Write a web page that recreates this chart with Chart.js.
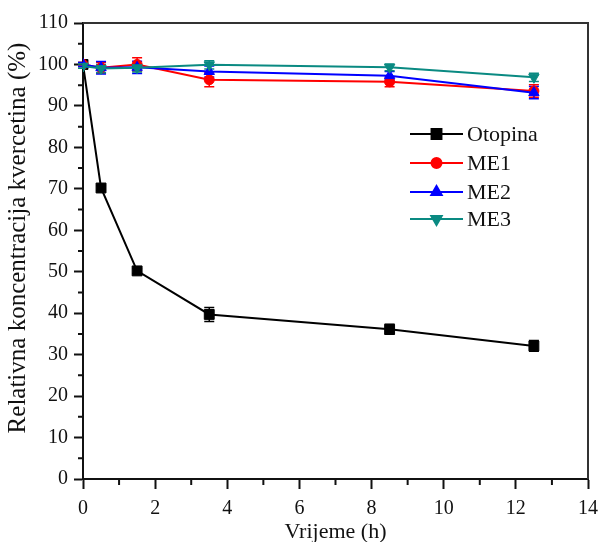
<!DOCTYPE html>
<html><head><meta charset="utf-8">
<script src="https://cdn.jsdelivr.net/npm/chart.js@4"></script>
<style>html,body{margin:0;padding:0;background:#fff}#wrap{width:602px;height:542px}</style>
</head><body><div id="wrap"><canvas id="c" width="602" height="542"></canvas></div>
<script>
const times = [0, 0.5, 1.5, 3.5, 8.5, 12.5];
const seriesNames = ['Otopina', 'ME1', 'ME2', 'ME3'];
const otopina = [100, 70.2, 50.2, 39.7, 36.1, 32.1];
const me1 = [100, 99.2, 100, 96.3, 95.8, 93.6];
const me2 = [100, 99.2, 99.3, 98.3, 97.3, 93.2];
const me3 = [99.6, 99.0, 99.2, 99.9, 99.3, 96.9];
const otopinaErr = [0.5, 0.6, 0.6, 1.7, 1.2, 1.3];
const me1Err = [0.5, 1.3, 1.6, 1.7, 1.2, 1.5];
const me2Err = [0.5, 1.5, 1.5, 1.3, 1.0, 1.5];
const me3Err = [0.5, 1.0, 1.0, 1.0, 0.8, 1.0];
const xTicks = [0, 2, 4, 6, 8, 10, 12, 14];
const yTicks = [0, 10, 20, 30, 40, 50, 60, 70, 80, 90, 100, 110];
const yTitle = 'Relativna koncentracija kvercetina (%)';
const xTitle = 'Vrijeme (h)';

const pts = arr => times.map((t, i) => ({x: t, y: arr[i]}));
const FONT = "'Liberation Serif', 'Times New Roman', serif";

const errorBars = {
  id: 'errorBars',
  beforeDatasetsDraw(chart) {
    const ctx = chart.ctx, xs = chart.scales.x, ys = chart.scales.y;
    chart.data.datasets.forEach(ds => {
      if (!ds.errors) return;
      ctx.save();
      ctx.strokeStyle = ds.borderColor; ctx.lineWidth = 1.5;
      ds.data.forEach((p, i) => {
        const e = ds.errors[i];
        const px = xs.getPixelForValue(p.x);
        const y1 = ys.getPixelForValue(p.y + e), y2 = ys.getPixelForValue(p.y - e);
        ctx.beginPath();
        ctx.moveTo(px, y1); ctx.lineTo(px, y2);
        ctx.moveTo(px - 5, y1); ctx.lineTo(px + 5, y1);
        ctx.moveTo(px - 5, y2); ctx.lineTo(px + 5, y2);
        ctx.stroke();
      });
      ctx.restore();
    });
  }
};

const frameAndMinor = {
  id: 'frameAndMinor',
  afterDraw(chart) {
    const ctx = chart.ctx, a = chart.chartArea, xs = chart.scales.x, ys = chart.scales.y;
    ctx.save();
    ctx.strokeStyle = '#333'; ctx.lineWidth = 2;
    ctx.beginPath();
    ctx.moveTo(a.left, a.top); ctx.lineTo(a.right, a.top); ctx.lineTo(a.right, a.bottom);
    ctx.stroke();
    ctx.strokeStyle = '#111'; ctx.lineWidth = 2;
    ctx.beginPath();
    for (let i = 0; i < xTicks.length - 1; i++) {
      const px = xs.getPixelForValue((xTicks[i] + xTicks[i + 1]) / 2);
      ctx.moveTo(px, a.bottom); ctx.lineTo(px, a.bottom + 6);
    }
    for (let i = 0; i < yTicks.length - 1; i++) {
      const py = ys.getPixelForValue((yTicks[i] + yTicks[i + 1]) / 2);
      ctx.moveTo(a.left, py); ctx.lineTo(a.left - 5, py);
    }
    ctx.stroke();
    // y axis title
    ctx.fillStyle = '#111';
    ctx.font = '25px ' + FONT;
    ctx.textAlign = 'center'; ctx.textBaseline = 'middle';
    ctx.translate(18, 238);
    ctx.rotate(-Math.PI / 2);
    ctx.fillText(yTitle, 0, 0);
    ctx.restore();
  }
};

const innerLegend = {
  id: 'innerLegend',
  afterDraw(chart) {
    const ctx = chart.ctx;
    const x0 = 410, x1 = 463, rows = [134, 163, 192, 219];
    ctx.save();
    chart.data.datasets.forEach((ds, i) => {
      const y = rows[i];
      ctx.strokeStyle = ds.borderColor; ctx.lineWidth = 2;
      ctx.beginPath(); ctx.moveTo(x0, y); ctx.lineTo(x1, y); ctx.stroke();
      ctx.fillStyle = ds.backgroundColor; ctx.strokeStyle = ds.borderColor;
      Chart.helpers.drawPoint(ctx, {pointStyle: ds.pointStyle, radius: ds.pointRadius, rotation: ds.rotation || 0, borderWidth: 1}, (x0 + x1) / 2, y);
      ctx.fillStyle = '#111';
      ctx.font = '22px ' + FONT;
      ctx.textBaseline = 'middle'; ctx.textAlign = 'left';
      ctx.fillText(ds.label, x1 + 4, y + 1);
    });
    ctx.restore();
  }
};

function mk(label, data, errs, color, style, radius, order, rot) {
  return {
    label, data: pts(data), errors: errs,
    borderColor: color, backgroundColor: color, pointBackgroundColor: color, pointBorderColor: color,
    borderWidth: 2, pointBorderWidth: 1, pointStyle: style, pointRadius: radius, pointHoverRadius: radius, rotation: rot || 0,
    order, tension: 0, fill: false
  };
}

new Chart(document.getElementById('c'), {
  type: 'line',
  data: {
    datasets: [
      mk(seriesNames[0], otopina, otopinaErr, '#000000', 'rect', 7, 3),
      mk(seriesNames[1], me1, me1Err, '#ff0000', 'circle', 5, 2),
      mk(seriesNames[2], me2, me2Err, '#0000ff', 'triangle', 6, 1),
      mk(seriesNames[3], me3, me3Err, '#0a8a82', 'triangle', 6, 0, 180)
    ]
  },
  options: {
    responsive: false, animation: false, devicePixelRatio: 1,
    layout: {padding: {top: 23, right: 14, left: 0, bottom: 0}},
    plugins: {legend: {display: false}, tooltip: {enabled: false}},
    scales: {
      x: {
        type: 'linear', min: 0, max: 14,
        afterBuildTicks: s => { s.ticks = xTicks.map(v => ({value: v})); },
        afterFit: s => { s.height = 63; s.paddingLeft = 0; s.paddingRight = 0; },
        border: {display: true, color: '#111', width: 2},
        grid: {drawOnChartArea: false, drawTicks: true, tickLength: 10, tickColor: '#111', tickWidth: 2},
        ticks: {color: '#111', font: {family: FONT, size: 20}, padding: 8, maxRotation: 0},
        title: {display: true, text: xTitle, color: '#111', font: {family: FONT, size: 22, lineHeight: 0.9}, padding: {top: 0, bottom: 0}}
      },
      y: {
        type: 'linear', min: 0, max: 110,
        afterBuildTicks: s => { s.ticks = yTicks.map(v => ({value: v})); },
        afterFit: s => { s.width = 83; s.paddingTop = 0; s.paddingBottom = 0; },
        border: {display: true, color: '#111', width: 2},
        grid: {drawOnChartArea: false, drawTicks: true, tickLength: 9, tickColor: '#111', tickWidth: 2},
        ticks: {color: '#111', font: {family: FONT, size: 20}, padding: 6},
        title: {display: false}
      }
    }
  },
  plugins: [errorBars, frameAndMinor, innerLegend]
});
</script></body></html>
